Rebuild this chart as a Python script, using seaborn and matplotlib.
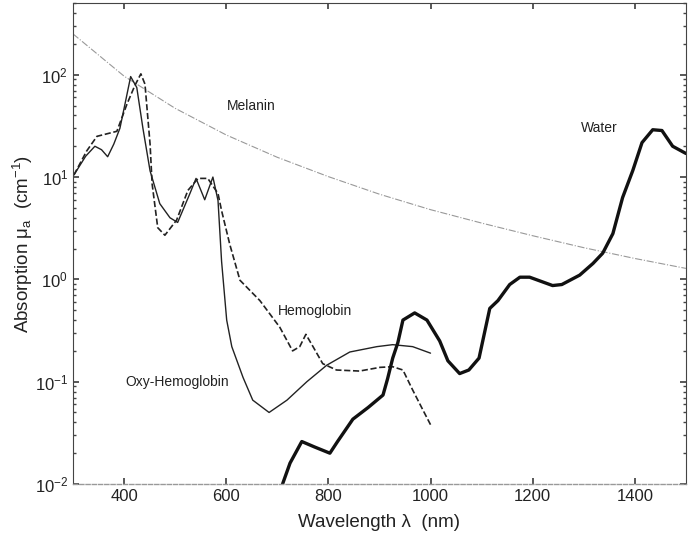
import numpy as np
import pandas as pd
import matplotlib
matplotlib.use("Agg")
import matplotlib.pyplot as plt
import seaborn as sns

# Values (wavelength in nm, absorption in 1/cm)
oxy_wl = [302, 325, 343, 356, 368, 380, 392, 402, 413, 425, 437, 451, 470, 490, 505, 529, 541,
          558, 574, 584, 591, 601, 611, 633, 652, 684, 719, 758, 797, 842, 895, 926, 965, 1000]
oxy_mu = [10.5, 16, 20, 18.5, 15.8, 21, 30, 52, 96, 75, 30, 11.5, 5.5, 4.0, 3.6, 6.9, 9.7,
          6.0, 10, 5.9, 1.5, 0.4, 0.22, 0.11, 0.066, 0.05, 0.066, 0.10, 0.145, 0.195, 0.22, 0.23, 0.22, 0.19]

hb_wl = [302, 327, 347, 386, 406, 421, 433, 441, 451, 455, 466, 480, 503, 525, 545, 564,
         584, 591, 607, 627, 666, 705, 730, 744, 756, 770, 789, 816, 861, 901, 926, 946, 965, 985, 1000]
hb_mu = [10.5, 18, 25, 28, 52, 78, 102, 81, 21, 8.6, 3.2, 2.7, 3.8, 7.4, 9.7, 9.7,
         6.9, 4.7, 2.2, 0.98, 0.62, 0.34, 0.20, 0.22, 0.29, 0.22, 0.15, 0.13, 0.127, 0.138, 0.14, 0.13, 0.083, 0.053, 0.038]

water_wl = [705, 711, 725, 748, 773, 803, 818, 848, 878, 907, 916, 926, 936, 946, 969, 993,
            1018, 1034, 1057, 1075, 1095, 1116, 1132, 1155, 1175, 1194, 1239, 1257, 1292, 1318,
            1337, 1357, 1376, 1396, 1414, 1435, 1453, 1474, 1500]
water_mu = [0.008, 0.0102, 0.016, 0.026, 0.023, 0.020, 0.026, 0.043, 0.056, 0.074, 0.107, 0.17, 0.24, 0.40, 0.47, 0.40,
            0.25, 0.16, 0.12, 0.13, 0.17, 0.52, 0.62, 0.89, 1.05, 1.05, 0.87, 0.89, 1.1, 1.43,
            1.8, 2.8, 6.3, 11.6, 21.7, 29, 28.5, 20, 17]

mel_wl = [300, 400, 500, 600, 700, 800, 900, 1000, 1100, 1200, 1300, 1400, 1500]
mel_mu = [251, 97, 47, 25.8, 15.6, 10.1, 6.8, 4.8, 3.55, 2.67, 2.04, 1.60, 1.28]

sns.set_theme(style="ticks")
plt.rcParams['font.family'] = ['Liberation Sans', 'DejaVu Sans']
plt.rcParams['mathtext.fontset'] = 'custom'
plt.rcParams['mathtext.rm'] = 'Liberation Sans'
plt.rcParams['mathtext.it'] = 'Liberation Sans:italic'

fig = plt.figure(figsize=(6.88, 5.38), dpi=100)
ax = fig.add_axes([0.106, 0.1004, 0.891, 0.8936])

sns.lineplot(x=mel_wl, y=mel_mu, ax=ax, color="#999999", linestyle="-.", linewidth=0.8, sort=False)
sns.lineplot(x=hb_wl, y=hb_mu, ax=ax, color="#222222", linestyle="--", linewidth=1.2, sort=False)
sns.lineplot(x=oxy_wl, y=oxy_mu, ax=ax, color="#222222", linestyle="-", linewidth=1.0, sort=False)
sns.lineplot(x=water_wl, y=water_mu, ax=ax, color="#111111", linestyle="-", linewidth=2.4, sort=False)

ax.set_yscale("log")
ax.set_xlim(300, 1500)
ax.set_ylim(1e-2, 500)
ax.set_xticks([400, 600, 800, 1000, 1200, 1400])

ax.tick_params(which="both", direction="in", top=True, right=True, colors="#444444", labelcolor="#222222")
ax.tick_params(which="major", length=4, labelsize=12)
ax.tick_params(which="minor", length=2)
for side in ["left", "right", "top"]:
    ax.spines[side].set_color("#444444")
    ax.spines[side].set_linewidth(0.8)
ax.spines["bottom"].set_color("#999999")
ax.spines["bottom"].set_linestyle((0, (3, 1.5)))
ax.spines["bottom"].set_linewidth(1.0)

ax.set_xlabel("Wavelength λ  (nm)", fontsize=13.5, color="#222222", labelpad=7)
ax.set_ylabel("Absorption μ$_\\mathrm{a}$  (cm$^{-1}$)", fontsize=13.5, color="#222222", labelpad=0)

lab = dict(fontsize=10, color="#222222", ha="center", va="center")
ax.text(650, 50, "Melanin", **lab)
ax.text(1331, 30, "Water", **lab)
ax.text(774, 0.49, "Hemoglobin", **lab)
ax.text(505, 0.1, "Oxy-Hemoglobin", **lab)

fig.savefig("out.png", dpi=100)
